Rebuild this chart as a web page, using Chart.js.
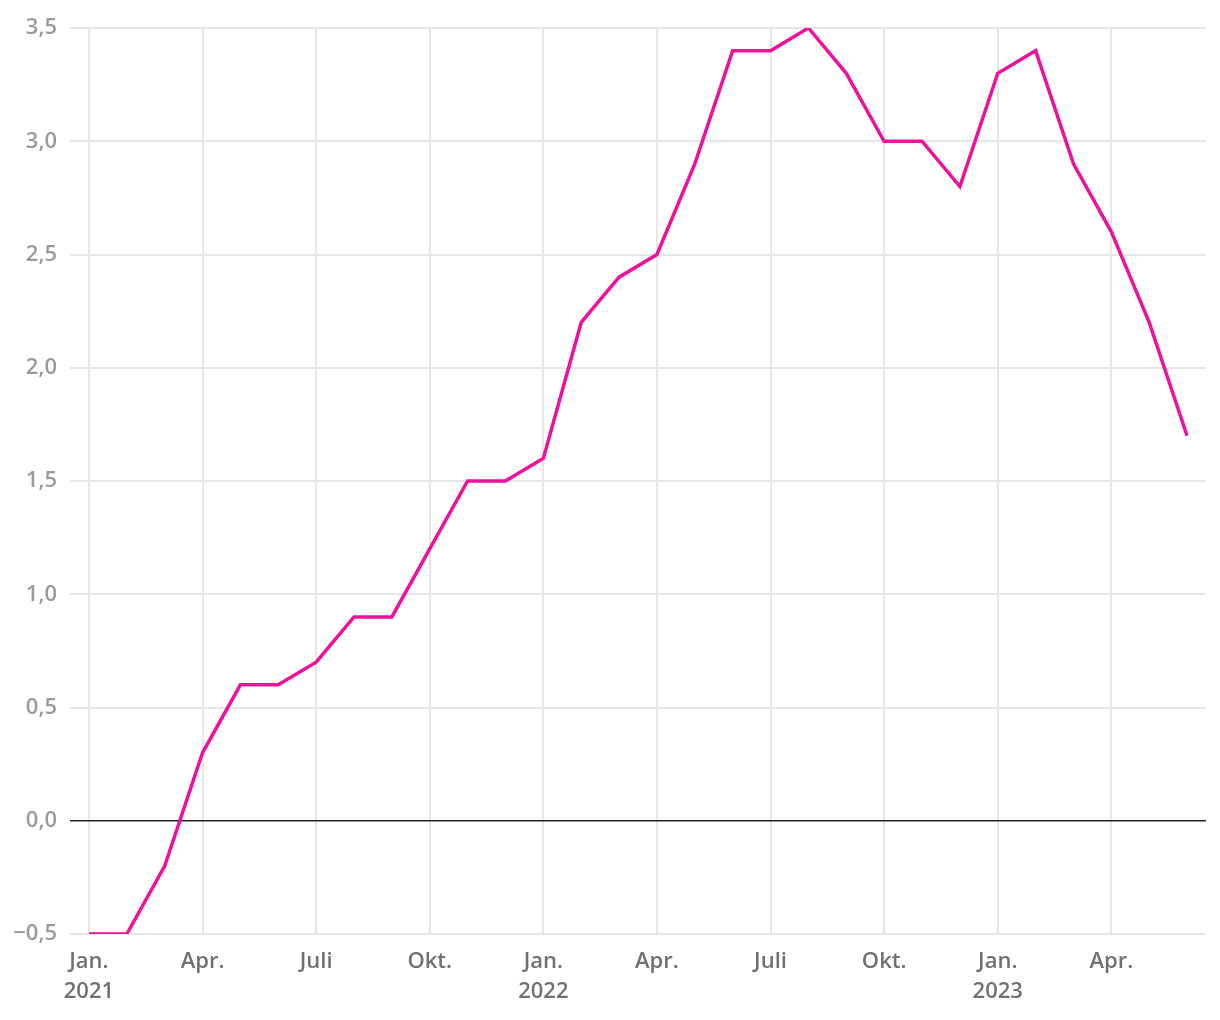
<!DOCTYPE html>
<html>
<head>
<meta charset="utf-8">
<script src="https://cdn.jsdelivr.net/npm/chart.js@4.4.0/dist/chart.umd.min.js"></script>
<style>
  html, body { margin: 0; padding: 0; background: #fff; }
  #wrap { width: 1220px; height: 1020px; position: relative; }
</style>
</head>
<body>
<div id="wrap"><canvas id="plot-id"></canvas></div>
<script>
// monthly values, Jan 2021 .. Jun 2023
let months = ['2021-01','2021-02','2021-03','2021-04','2021-05','2021-06','2021-07','2021-08','2021-09','2021-10','2021-11','2021-12',
              '2022-01','2022-02','2022-03','2022-04','2022-05','2022-06','2022-07','2022-08','2022-09','2022-10','2022-11','2022-12',
              '2023-01','2023-02','2023-03','2023-04','2023-05','2023-06'];
let values = [-0.5, -0.5, -0.2, 0.3, 0.6, 0.6, 0.7, 0.9, 0.9, 1.2, 1.5, 1.5,
              1.6, 2.2, 2.4, 2.5, 2.9, 3.4, 3.4, 3.5, 3.3, 3.0, 3.0, 2.8,
              3.3, 3.4, 2.9, 2.6, 2.2, 1.7];
let x_ticks = [0, 3, 6, 9, 12, 15, 18, 21, 24, 27];
let x_tick_labels = [['Jan.', '2021'], 'Apr.', 'Juli', 'Okt.', ['Jan.', '2022'], 'Apr.', 'Juli', 'Okt.', ['Jan.', '2023'], 'Apr.'];
let y_ticks = [-0.5, 0, 0.5, 1, 1.5, 2, 2.5, 3, 3.5];

let points = [];
for (let i = 0; i < values.length; i++) {
    points.push({ x: i, y: values[i] });
}

var ctx = document.getElementById('plot-id');
var chart = new Chart(ctx, {
    type: 'line',
    data: {
        datasets: [
            {
                label: 'Verdi',
                data: points,
                borderColor: '#ee1199',
                borderWidth: 3.5,
                pointRadius: 0,
                tension: 0,
                fill: false
            }
        ]
    },
    options: {
        responsive: true,
        maintainAspectRatio: false,
        animation: false,
        layout: { padding: { top: 28, right: 14, left: 0, bottom: 0 } },
        scales: {
            x: {
                type: 'linear',
                min: -0.5,
                max: 29.5,
                afterBuildTicks: (scale) => { scale.ticks = x_ticks.map(v => ({ value: v })); },
                afterFit: (scale) => { scale.height = 86; },
                border: { display: false },
                grid: { color: '#e6e6e6', lineWidth: 2, drawTicks: false },
                ticks: {
                    autoSkip: false,
                    maxRotation: 0,
                    padding: 13,
                    color: '#717171',
                    font: { family: 'Open Sans', size: 22, weight: 600, lineHeight: 1.36 },
                    callback: (v) => {
                        let k = x_ticks.indexOf(v);
                        return k >= 0 ? x_tick_labels[k] : '';
                    }
                }
            },
            y: {
                min: -0.5,
                max: 3.5,
                afterBuildTicks: (scale) => { scale.ticks = y_ticks.map(v => ({ value: v })); },
                afterFit: (scale) => { scale.width = 70; },
                border: { display: false },
                grid: {
                    drawTicks: false,
                    color: (c) => (c.tick && c.tick.value === 0) ? '#222222' : '#e6e6e6',
                    lineWidth: (c) => (c.tick && c.tick.value === 0) ? 1.6 : 2
                },
                ticks: {
                    padding: 13,
                    color: '#9a9a9a',
                    font: { family: 'Open Sans', size: 22, weight: 600 },
                    callback: (v) => v.toFixed(1).replace('.', ',').replace('-', '\u2212')
                }
            }
        },
        plugins: {
            legend: { display: false },
            tooltip: { enabled: false }
        }
    }
});
</script>
</body>
</html>
